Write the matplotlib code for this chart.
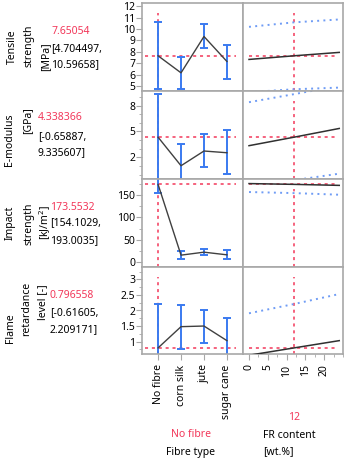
import numpy as np
import matplotlib.pyplot as plt
from matplotlib.ticker import FuncFormatter, MultipleLocator, FixedLocator

plt.rcParams['font.family'] = ['Noto Sans', 'DejaVu Sans']

W, H = 345, 461

fibre_types = ["No fibre", "corn silk", "jute", "sugar cane"]

tensile_mean = [7.65054, 6.15, 9.35, 7.15]
tensile_lo = [4.704497, 4.70, 8.30, 5.62]
tensile_hi = [10.59658, 7.55, 10.48, 8.64]

emod_mean = [4.338366, 1.02, 2.73, 2.53]
emod_lo = [-0.65887, -1.45, 0.84, 0.06]
emod_hi = [9.335607, 3.51, 4.67, 5.14]

impact_mean = [173.5532, 16.0, 22.6, 16.7]
impact_lo = [154.1029, 7.0, 16.7, 7.0]
impact_hi = [193.0035, 25.0, 30.7, 27.0]

flame_mean = [0.796558, 1.48, 1.50, 1.03]
flame_lo = [-0.61605, 0.77, 0.95, 0.31]
flame_hi = [2.209171, 2.19, 2.03, 1.75]

fr_x = [0, 12, 24]
tensile_fr = [7.33, 7.65054, 7.95]
tensile_fr_lo = [4.45, 4.704497, 4.85]
tensile_fr_hi = [10.2, 10.59658, 10.85]
emod_fr = [3.35, 4.338366, 5.35]
emod_fr_lo = [-1.6, -0.65887, 0.1]
emod_fr_hi = [8.4, 9.335607, 10.3]
impact_fr = [175.3, 173.5532, 171.3]
impact_fr_lo = [156.5, 154.1029, 150.5]
impact_fr_hi = [194.5, 193.0035, 191.5]
flame_fr = [0.56, 0.796558, 1.03]
flame_fr_lo = [-0.8, -0.61605, -0.45]
flame_fr_hi = [1.91, 2.209171, 2.53]

fibre_current = 0
fr_current = 12

tensile_ticks = [5, 6, 7, 8, 9, 10, 11, 12]
emod_ticks = [2, 5, 8]
impact_ticks = [0, 50, 100, 150]
flame_ticks = [1, 1.5, 2, 2.5, 3]
fr_ticks = [0, 5, 10, 15, 20]

rows = [
    (tensile_mean, tensile_lo, tensile_hi, tensile_fr, tensile_fr_lo, tensile_fr_hi, (4.55, 12.3), tensile_ticks, None),
    (emod_mean, emod_lo, emod_hi, emod_fr, emod_fr_lo, emod_fr_hi, (-0.52, 9.7), emod_ticks, 1),
    (impact_mean, impact_lo, impact_hi, impact_fr, impact_fr_lo, impact_fr_hi, (-10.4, 185.5), impact_ticks, 25),
    (flame_mean, flame_lo, flame_hi, flame_fr, flame_fr_lo, flame_fr_hi, (0.6, 3.4), flame_ticks, 0.25),
]

RED = '#f2385a'
BLUE = '#3a7af0'
LBLUE = '#6f9cf5'
GRAY = '#a8a8a8'

fig = plt.figure(figsize=(W / 100, H / 100), dpi=100)
fig.patch.set_facecolor('white')


def px_axes(x0, y0, x1, y1):
    return fig.add_axes([x0 / W, 1 - y1 / H, (x1 - x0) / W, (y1 - y0) / H])


def px_text(x, y, s, **kw):
    fig.text(x / W, 1 - y / H, s, fontsize=7.5, **kw)


row_edges = [3, 91, 179, 267, 354]
fmt = FuncFormatter(lambda v, p: '{:g}'.format(v))

for i, (m, lo, hi, fm, flo, fhi, ylim, ticks, minor) in enumerate(rows):
    y0, y1 = row_edges[i], row_edges[i + 1]
    ax1 = px_axes(142, y0, 243, y1)
    ax2 = px_axes(243, y0, 343, y1)
    for ax in (ax1, ax2):
        ax.set_ylim(*ylim)
        for s in ax.spines.values():
            s.set_color(GRAY)
            s.set_linewidth(1.2)
        ax.tick_params(colors=GRAY, labelcolor='black', labelsize=7.5, length=4, width=0.8)
    ax1.set_xlim(-0.7, 3.7)
    ax2.set_xlim(-1.6, 25)

    # categorical profile
    x = np.arange(len(fibre_types))
    ax1.axhline(m[fibre_current], xmin=0.03, xmax=0.93, color=RED, ls=(0, (2, 2.5)), lw=1.1, zorder=1)
    ax1.axvline(fibre_current, ymax=0.89, color=RED, ls=(0, (2, 2.5)), lw=1.1, zorder=1)
    ax1.plot(x, m, color='#404040', lw=1.0, zorder=3)
    ax1.errorbar(x, m, yerr=[np.array(m) - np.array(lo), np.array(hi) - np.array(m)],
                 fmt='none', ecolor=BLUE, elinewidth=1.4, capsize=3, capthick=1.4, zorder=2)

    # continuous profile
    ax2.axhline(m[fibre_current], xmin=0.06, xmax=0.93, color=RED, ls=(0, (2, 2.5)), lw=1.1, zorder=1)
    ax2.axvline(fr_current, ymax=0.89, color=RED, ls=(0, (2, 2.5)), lw=1.1, zorder=1)
    ax2.plot(fr_x, fm, color='#303030', lw=1.1, zorder=3)
    ax2.plot(fr_x, flo, color=LBLUE, lw=1.4, ls=(0, (1, 2.2)), zorder=2)
    ax2.plot(fr_x, fhi, color=LBLUE, lw=1.4, ls=(0, (1, 2.2)), zorder=2)

    ax1.yaxis.set_major_locator(FixedLocator(ticks))
    if minor:
        ax1.yaxis.set_minor_locator(MultipleLocator(minor))
        ax1.tick_params(axis='y', which='minor', length=2.5, colors=GRAY)
    ax1.yaxis.set_major_formatter(fmt)
    ax1.tick_params(axis='y', pad=1)
    ax2.set_yticks([])

    if i < 3:
        ax1.set_xticks([])
        ax2.set_xticks([])
    else:
        ax1.set_xticks(x)
        ax1.set_xticklabels(fibre_types, rotation=90)
        ax2.xaxis.set_major_locator(FixedLocator(fr_ticks))
        ax2.xaxis.set_minor_locator(MultipleLocator(2.5))
        ax2.tick_params(axis='x', which='minor', length=2.5, colors=GRAY)
        ax2.xaxis.set_major_formatter(fmt)
        ax2.tick_params(axis='x', rotation=90)

# response labels
px_text(12, 47, "Tensile", rotation=90, ha='center', va='center')
px_text(29, 46, "strength", rotation=90, ha='center', va='center')
px_text(46, 57, "[MPa]", rotation=90, ha='center', va='center')
px_text(51, 31, "7.65054", color=RED, va='center')
px_text(51, 49, "[4.704497,", va='center')
px_text(51, 65, "10.59658]", va='center')

px_text(10, 140, "E-modulus", rotation=90, ha='center', va='center')
px_text(28, 121, "[GPa]", rotation=90, ha='center', va='center')
px_text(38, 118, "4.338366", color=RED, va='center')
px_text(38, 137, "[-0.65887,", va='center')
px_text(38, 153, "9.335607]", va='center')

px_text(10, 223, "Impact", rotation=90, ha='center', va='center')
px_text(29, 224, "strength", rotation=90, ha='center', va='center')
px_text(45, 222, "[kJ/m$^2$]", rotation=90, ha='center', va='center')
px_text(50, 207, "173.5532", color=RED, va='center')
px_text(50, 223, "[154.1029,", va='center')
px_text(50, 241, "193.0035]", va='center')

px_text(10, 328, "Flame", rotation=90, ha='center', va='center')
px_text(27, 309, "retardance", rotation=90, ha='center', va='center')
px_text(43, 302, "level [-]", rotation=90, ha='center', va='center')
px_text(50, 295, "0.796558", color=RED, va='center')
px_text(50, 313, "[-0.61605,", va='center')
px_text(50, 330, "2.209171]", va='center')

# factor labels
px_text(191, 434, fibre_types[fibre_current], color=RED, ha='center', va='center')
px_text(191, 452, "Fibre type", ha='center', va='center')
px_text(294, 417, "{:g}".format(fr_current), color=RED, ha='center', va='center')
px_text(263, 435, "FR content", va='center')
px_text(263, 452, "[wt.%]", va='center')

plt.savefig("out.png", dpi=100, facecolor='white')
